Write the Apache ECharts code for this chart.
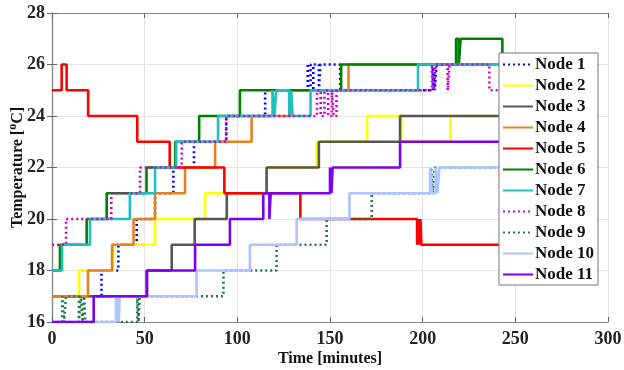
<!DOCTYPE html>
<html>
<head>
<meta charset="utf-8">
<script src="https://cdn.jsdelivr.net/npm/echarts@6/dist/echarts.min.js"></script>
<style>
  html, body { margin: 0; padding: 0; background: #fff; }
  #chart { width: 624px; height: 370px; }
</style>
</head>
<body>
<div id="chart"></div>
<script>
// [time in minutes, temperature] — each point holds until the next one
var node1 = [[0,17],[26.7,18],[35.8,19],[45.7,20],[55.6,21],[65.5,22],[76.6,23],[94,24],[115,25],[138,26],[139.5,25],[141,26],[144,25],[144.8,26],[155.5,25],[205.5,26],[206.5,25],[207.5,26],[250,26]]
var node2 = [[0,17],[14.6,18],[33,19],[55.6,20],[82.6,21],[115.8,22],[142.8,23],[170,24],[188.5,23],[215,24],[250,24]]
var node3 = [[0,17],[51,18],[64.6,19],[77,20],[94.3,21],[115.8,22],[144,23],[187.8,24],[250,24]]
var node4 = [[0,17],[19.4,18],[32.4,19],[44,20],[55.6,21],[71.8,22],[88,23],[107.7,24],[129,25],[160,26],[250,26]]
var node5 = [[0,25],[5.2,26],[7.9,25],[19.5,24],[46,23],[63.5,22],[93,21],[134,20],[197,19],[197.6,20],[198.2,19],[198.8,20],[199.3,19],[250,19]]
var node6 = [[0,18],[4.3,19],[18.7,20],[29.5,21],[51,22],[66.5,23],[79.4,24],[101.4,25],[156,26],[218,27],[219.5,26],[220.5,27],[243,26],[250,26]]
var node7 = [[0,18],[5.4,19],[20.5,20],[42,21],[55.6,22],[67,23],[89.6,24],[119,25],[120,24],[121,25],[128,24],[129,25],[129.8,24],[139.5,25],[197.5,26],[250,26]]
var node8 = [[0,19],[7.6,20],[32,21],[47.5,22],[70,23],[94,24],[143,25],[145,24],[147,25],[149,24],[151,25],[152,24],[153.5,25],[205,26],[206,25],[207,26],[213.5,25],[214.5,26],[236,25],[250,25]]
var node9 = [[0,16],[5.5,17],[6.5,16],[7.5,17],[14.5,16],[15.5,17],[16.5,16],[17.3,17],[18,16],[46,17],[46.7,16],[47.3,17],[92.5,18],[121.2,19],[148.2,20],[172.5,21],[204.5,22],[205.5,21],[206.5,22],[250,22]]
var node10 = [[0,16],[34.5,17],[35,16],[35.5,17],[36,16],[36.5,17],[78,18],[106.8,19],[132,20],[160.5,21],[204,22],[205,21],[207,22],[208,21],[209,22],[250,22]]
var node11 = [[0,16],[22.5,17],[51.3,18],[77.2,19],[96,20],[114,21],[117.3,20],[118,21],[150,22],[150.8,21],[151.4,22],[187.8,23],[250,23]]

var names = ['Node 1','Node 2','Node 3','Node 4','Node 5','Node 6','Node 7','Node 8','Node 9','Node 10','Node 11']
var values = [node1,node2,node3,node4,node5,node6,node7,node8,node9,node10,node11]
var colors = ['#0000ff','#ffff00','#555555','#e6821e','#ff0000','#008000','#1fbfbf','#d100d1','#217a4a','#aec3ff','#7b00ef']
var dotted = [true,false,false,false,false,false,false,true,true,false,false]

var font = 'Liberation Serif'
var chart = echarts.init(document.getElementById('chart'))

var series = names.map(function(n, i) {
  return {
    name: n,
    type: 'line',
    step: 'end',
    data: values[i],
    symbol: 'none',
    animation: false,
    lineStyle: {
      color: colors[i],
      width: 2.6,
      type: dotted[i] ? [2, 3] : 'solid'
    },
    itemStyle: { color: colors[i] }
  }
})

chart.setOption({
  backgroundColor: '#fff',
  grid: { left: 52, right: 16, top: 13, bottom: 48, containLabel: false, outerBoundsMode: 'none' },
  legend: {
    right: 26,
    top: 53,
    orient: 'vertical',
    backgroundColor: '#fff',
    borderColor: '#777',
    borderWidth: 1,
    borderRadius: 0,
    padding: [3, 4, 2, 3],
    itemGap: 4,
    itemWidth: 30,
    itemHeight: 4,
    itemStyle: { opacity: 0 },
    textStyle: { fontFamily: font, fontWeight: 'bold', fontSize: 17, color: '#111', padding: [0, 0, 0, -3] },
    data: names
  },
  xAxis: [{
    type: 'value',
    min: 0, max: 300, interval: 50,
    name: 'Time [minutes]',
    nameLocation: 'middle',
    nameGap: 29,
    nameMoveOverlap: false,
    nameTextStyle: { fontFamily: font, fontWeight: 'bold', fontSize: 16, color: '#111' },
    axisLine: { show: true, lineStyle: { color: '#888', width: 1.2 } },
    axisTick: { show: true, inside: true, length: 5, lineStyle: { color: '#666' } },
    axisLabel: { fontFamily: font, fontWeight: 'bold', fontSize: 18, color: '#222', margin: 8 },
    splitLine: { show: true, lineStyle: { color: '#e4e4e4' } }
  }, {
    type: 'value', position: 'top',
    min: 0, max: 300, interval: 50,
    axisLine: { show: true, lineStyle: { color: '#888', width: 1.2 } },
    axisTick: { show: true, inside: true, length: 5, lineStyle: { color: '#666' } },
    axisLabel: { show: false },
    splitLine: { show: false }
  }],
  yAxis: [{
    type: 'value',
    min: 16, max: 28, interval: 2,
    name: 'Temperature [{sup|o}C]',
    nameLocation: 'middle',
    nameRotate: 90,
    nameGap: 24,
    nameMoveOverlap: false,
    nameTextStyle: {
      fontFamily: font, fontWeight: 'bold', fontSize: 16, color: '#111',
      rich: { sup: { fontFamily: font, fontWeight: 'bold', fontSize: 12, color: '#111', padding: [0, 0, 9, 0] } }
    },
    axisLine: { show: true, lineStyle: { color: '#888', width: 1.2 } },
    axisTick: { show: true, inside: true, length: 5, lineStyle: { color: '#666' } },
    axisLabel: { fontFamily: font, fontWeight: 'bold', fontSize: 18, color: '#222', margin: 7 },
    splitLine: { show: true, lineStyle: { color: '#e4e4e4' } }
  }, {
    type: 'value', position: 'right',
    min: 16, max: 28, interval: 2,
    axisLine: { show: true, lineStyle: { color: '#888', width: 1.2 } },
    axisTick: { show: true, inside: true, length: 5, lineStyle: { color: '#666' } },
    axisLabel: { show: false },
    splitLine: { show: false }
  }],
  series: series
})
</script>
</body>
</html>
